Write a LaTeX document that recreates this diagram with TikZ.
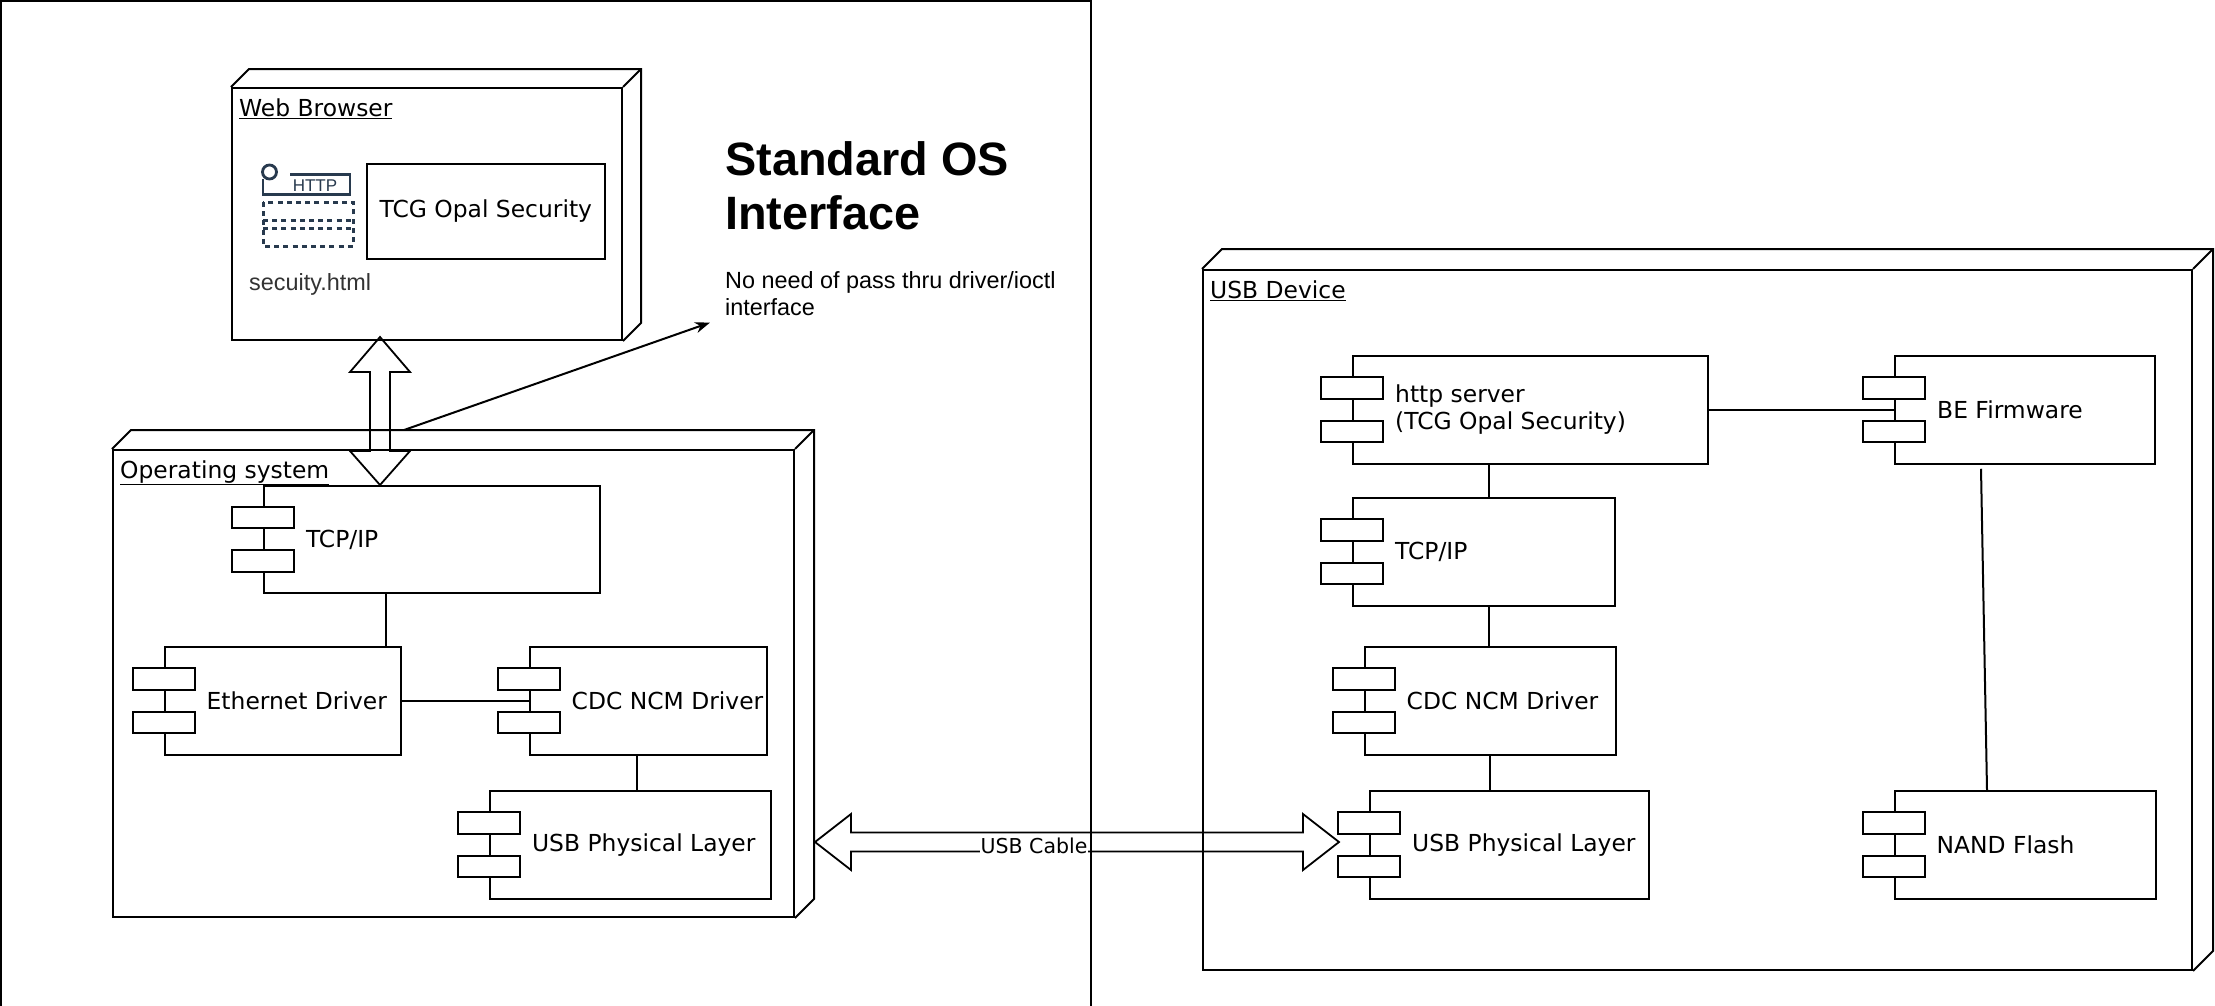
\documentclass[tikz,border=0pt]{standalone}
\usepackage{fontspec}
\setmainfont{DejaVu Sans}
\newfontfamily\arialfont{Liberation Sans}
\usetikzlibrary{arrows.meta,calc,positioning}

\definecolor{iconblue}{RGB}{40,58,78}
\newcommand\compfont{\fontsize{23.4pt}{27pt}\selectfont}
\newcommand\notefont{\arialfont\fontsize{23.4pt}{27pt}\selectfont}
\newcommand\titlefont{\arialfont\bfseries\fontsize{46.8pt}{54pt}\selectfont}

% back faces of a uml node
\newcommand\nodeside[2]{%
  \draw[box] (#1.north west) -- ++(#2,-#2) -| ($(#1.south east)+(#2,-#2)$) -- (#1.south east);
  \draw[box] (#1.north east) -- ++(#2,-#2);}
% the two small boxes of a component
\newcommand\compplugs[1]{%
  \draw[box,fill=white] ($(#1.north west)!0.2!(#1.south west)+(-31,0)$) rectangle ++(62,21.5);
  \draw[box,fill=white] ($(#1.north west)!0.6!(#1.south west)+(-31,0)$) rectangle ++(62,21.5);}

\begin{document}
\begin{tikzpicture}[x=1pt,y=-1pt,>={Stealth[length=15pt,width=11pt]},
                    box/.style={draw,line width=2pt},
                    uml node/.style={box,fill=white,inner sep=0},
                    comp/.style={box,fill=white,inner sep=0,minimum height=107.5pt},
                    comptext/.style={anchor=west,xshift=43pt,inner sep=0,font=\compfont,align=left},
                    nodetitle/.style={anchor=base west,xshift=8pt,yshift=-29pt,inner sep=0,font=\compfont},
                    link/.style={line width=2pt},
                    fat/.style={line width=1.8pt},
                    icon/.style={draw=iconblue,line width=2.8pt}]
  \useasboundingbox (0,0) rectangle (2215,1005);

  % host frame
  \draw[box] (1,1006) -- (1,1) -- (1091,1) -- (1091,1006);

  % uml nodes
  \node[uml node,minimum width=390pt,minimum height=252pt,
        label={[nodetitle]north west:\underline{Web Browser}}] (wb) at (427,214) {};
  \nodeside{wb}{18}
  \node[uml node,minimum width=681pt,minimum height=467pt,
        label={[nodetitle]north west:\underline{Operating system}}] (osN) at (453.5,683.5) {};
  \nodeside{osN}{19}
  \node[uml node,minimum width=989pt,minimum height=700pt,
        label={[nodetitle]north west:\underline{USB Device}}] (dev) at (1697.5,620) {};
  \nodeside{dev}{20}

  % browser page
  \node[box,minimum width=238.5pt,minimum height=95pt,font=\compfont] (opal) at (485.8,211.5) {TCG Opal Security};
  \node[anchor=west,inner sep=0,font=\notefont,text=black!80] (html) at (249,284) {secuity.html};
  \draw[icon] (269.5,172) circle[radius=7pt];
  \draw[icon] (263,179) |- (350,194.5) |- (290,174.5);
  \node[inner sep=0,text=iconblue,font=\arialfont\fontsize{17pt}{19pt}\selectfont] (httpTag) at (315,186) {HTTP};
  \draw[icon,line width=3pt,dash pattern=on 5pt off 4.2pt] (263,202) rectangle (353,246);
  \draw[icon,line width=3pt,dash pattern=on 5pt off 4.2pt] (263,220) -- (353,220) (263,228) -- (353,228);

  % host side
  \node[comp,minimum width=336pt,label={[comptext]west:TCP/IP}] (tcpA) at (431.8,539.5) {};
  \node[comp,minimum width=236pt,label={[comptext]west:Ethernet Driver}] (eth) at (282.5,701) {};
  \node[comp,minimum width=237pt,label={[comptext]west:CDC NCM Driver}] (cdcA) at (648,701) {};
  \node[comp,minimum width=281pt,label={[comptext]west:USB Physical Layer}] (usbA) at (630.4,845) {};

  % device side
  \node[comp,minimum width=355pt,label={[comptext]west:http server\\(TCG Opal Security)}] (http) at (1530.5,410) {};
  \node[comp,minimum width=260pt,label={[comptext]west:BE Firmware}] (beF) at (2025,410) {};
  \node[comp,minimum width=262pt,label={[comptext]west:TCP/IP}] (tcpB) at (1484,552) {};
  \node[comp,minimum width=251pt,label={[comptext]west:CDC NCM Driver}] (cdcB) at (1490,701) {};
  \node[comp,minimum width=279pt,label={[comptext]west:USB Physical Layer}] (usbB) at (1509.5,845) {};
  \node[comp,minimum width=261pt,label={[comptext]west:NAND Flash}] (nand) at (2025,845) {};

  \path[link]
    (tcpA.south -| 386,0) edge (eth.north -| 386,0)
    (eth) edge (cdcA)
    (cdcA.south -| 637,0) edge (usbA.north -| 637,0)
    (http) edge (beF)
    (http.south -| 1489,0) edge (tcpB.north -| 1489,0)
    (tcpB.south -| 1489,0) edge (cdcB.north -| 1489,0)
    (cdcB.south) edge (cdcB.south |- usbB.north)
    ($(beF.south)+(-44,4)$) edge (nand.north -| 1987,0);

  \foreach \c in {tcpA,eth,cdcA,usbA,http,beF,tcpB,cdcB,usbB,nand}
    {\compplugs{\c}}

  % text on the right of the browser
  \node[anchor=north west,inner sep=0,align=left,font=\titlefont] (title) at (725,141) {Standard OS\\Interface};
  \node[anchor=north west,inner sep=0,align=left,font=\notefont] (note) at (725,271) {No need of pass thru driver/ioctl\\interface};
  \draw[link,->] ($(osN.north west)+(292,-19)$) -- ($(note.south west)+(-15,7)$);

  % block arrows
  \coordinate (arT) at (380,337);
  \coordinate (arB) at (380,485);
  \draw[fat] (arT) -- ++(-30,35) -| ($(arB)+(-10,-34)$) -- ++(-20,0) -- (arB)
    -- ++(30,-34) -| ($(arT)+(10,35)$) -- ++(20,0) -- cycle;
  \coordinate (cabL) at (815,842);
  \coordinate (cabR) at (1339,842);
  \draw[fat] (cabL) -- ++(36,-28) |- ($(cabR)+(-36,-9.5)$) -- ++(0,-18.5) -- (cabR)
    -- ++(-36,28) |- ($(cabL)+(36,9.5)$) -- ++(0,18.5) -- cycle;
  \node[fill=white,inner xsep=1pt,inner ysep=1pt,font=\fontsize{20.5pt}{24pt}\selectfont] (cable) at (1034,846) {USB Cable};
\end{tikzpicture}
\end{document}
